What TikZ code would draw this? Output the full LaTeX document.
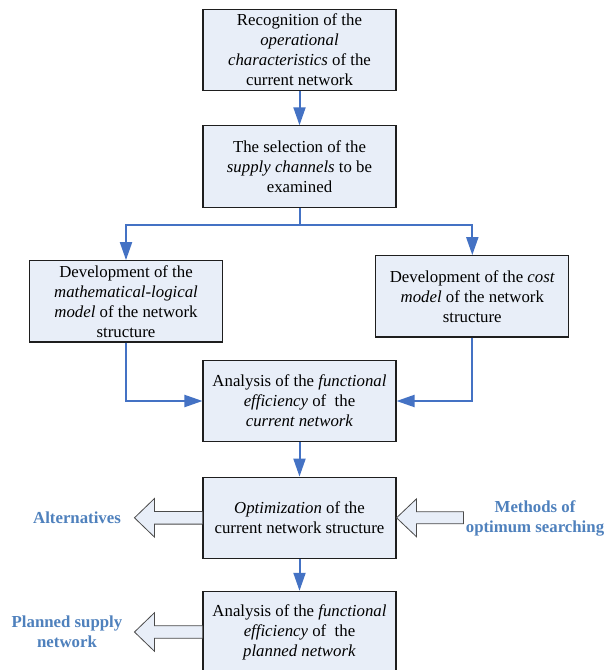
\documentclass[tikz,border=0pt]{standalone}
\usepackage{fontspec}
\setmainfont{Liberation Serif}
\usetikzlibrary{arrows.meta,calc}
\definecolor{boxfill}{HTML}{E8EEF8}
\definecolor{boxline}{HTML}{1E1E1E}
\definecolor{connblue}{HTML}{4472C4}
\definecolor{labelblue}{HTML}{4F81BD}
\tikzset{
  stepbox/.style={draw=boxline, fill=boxfill, line width=0.8pt, inner sep=0pt,
    minimum width=144.75pt, minimum height=61pt, align=center,
    font=\fontsize{12.6}{15}\selectfont},
  conn/.style={draw=connblue, line width=1.5pt, -{Triangle[length=13.5pt,width=9pt]}},
  connplain/.style={draw=connblue, line width=1.5pt},
  blockarrow/.style={draw=boxline!80, fill=boxfill, line width=0.6pt, line join=miter},
  sidelabel/.style={text=labelblue, align=center, inner sep=0pt,
    font=\fontsize{12.6}{15}\selectfont\bfseries}
}
\begin{document}
\begin{tikzpicture}[x=0.75pt,y=-0.75pt]
\useasboundingbox (0,0) rectangle (605,670);
\fill[white] (0,0) rectangle (605,670);

\node[stepbox] (b1) at (299.5,50) {Recognition of the\\ \textit{operational}\\ \textit{characteristics} of the\\ current network};
\node[stepbox] (b2) at (299.5,166.5) {The selection of the\\ \textit{supply channels} to be\\ examined};
\node[stepbox] (b3) at (126,301.3) {Development of the\\ \textit{mathematical-logical}\\ \textit{model} of the network\\ structure};
\node[stepbox] (b4) at (472.3,296.3) {Development of the \textit{cost}\\ \textit{model} of the network\\ structure};
\node[stepbox] (b5) at (299.5,401) {Analysis of the \textit{functional}\\ \textit{efficiency} of~ the\\ \textit{current network}};
\node[stepbox] (b6) at (299.5,517.8) {\textit{Optimization} of the\\ current network structure};
\node[stepbox] (b7) at (299.5,632) {Analysis of the \textit{functional}\\ \textit{efficiency} of~ the\\ \textit{planned network}};

\coordinate (split) at ($(b2.south)+(0,17.7)$);
\draw[conn] (b1) -- (b2);
\draw[connplain] (b2.south) -- (split);
\draw[conn] (split) -| (b3.north);
\draw[conn] (split) -| (b4.north);
\draw[conn] (b3.south) |- (b5.west);
\draw[conn] (b4.south) |- (b5.east);
\draw[conn] (b5) -- (b6);
\draw[conn] (b6) -- (b7);

% hollow block arrows
\draw[blockarrow] ($(b6.west)+(0,-6.3)$) -- ++(-48,0) -- ++(0,-13) -- ++(-20,19.3) -- ++(20,19.3) -- ++(0,-13) -- ++(48,0);
\draw[blockarrow] ($(b7.west)+(0,-6.3)$) -- ++(-48,0) -- ++(0,-13) -- ++(-20,19.3) -- ++(20,19.3) -- ++(0,-13) -- ++(48,0);
\draw[blockarrow] ($(b6.east)+(67,-6)$) -- ++(-47,0) -- ++(0,-13) -- ++(-20,19) -- ++(20,19) -- ++(0,-13) -- ++(47,0) -- cycle;

\node[sidelabel] (alt) at (77,517.7) {Alternatives};
\node[sidelabel] (plan) at (67,631.5) {Planned supply\\ network};
\node[sidelabel] (meth) at (535,518) {Methods of\\ optimum searching};
\end{tikzpicture}
\end{document}
